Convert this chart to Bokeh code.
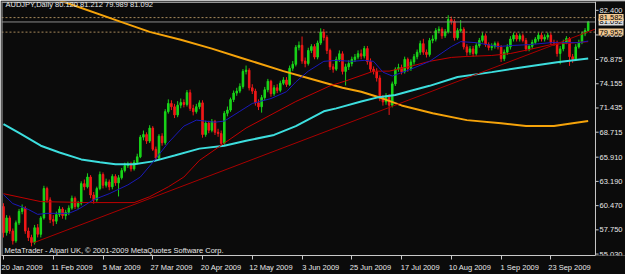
from bokeh.plotting import figure
from bokeh.models import Range1d, FixedTicker, Label, Span, ColumnDataSource
from bokeh.core.properties import value
from bokeh.embed import file_html
from bokeh.resources import INLINE

# ---------------- data (AUDJPY daily) ----------------
OPEN = [
    60.37, 57.44, 59.09, 57.62, 56.52, 58.54, 59.82, 60.19, 57.62, 56.89,
    56.34, 57.99, 57.25, 59.09, 62.39, 61.11, 58.91, 58.72, 59.46, 60.08,
    59.35, 59.71, 60.19, 61.29, 60.37, 60.74, 62.94, 62.58, 63.68, 61.66,
    61.11, 62.39, 63.97, 62.76, 63.13, 62.58, 63.75, 63.02, 63.60, 64.41,
    64.96, 65.07, 64.60, 65.33, 65.95, 68.16, 68.45, 67.72, 69.18, 66.80,
    65.81, 68.27, 67.53, 71.02, 71.94, 71.57, 70.65, 71.75, 72.05, 71.83,
    73.15, 71.39, 71.02, 71.57, 72.01, 68.45, 69.74, 68.93, 69.92, 68.71,
    68.56, 67.46, 70.84, 71.20, 72.38, 73.11, 73.33, 73.85, 75.54, 75.68,
    73.70, 73.33, 72.01, 71.57, 72.60, 73.48, 74.43, 73.04, 73.70, 73.41,
    74.21, 74.58, 74.07, 75.90, 76.34, 78.25, 78.47, 76.71, 76.42, 77.89,
    78.33, 77.15, 78.73, 79.94, 79.35, 77.89, 76.05, 75.79, 76.89, 77.52,
    75.54, 76.05, 76.42, 76.89, 77.15, 77.52, 77.26, 78.11, 76.64, 75.79,
    75.54, 74.80, 72.60, 72.12, 72.75, 71.75, 74.14, 75.79, 75.98, 75.50,
    76.89, 75.87, 76.60, 77.19, 77.70, 78.66, 77.70, 77.44, 79.02, 79.17,
    80.12, 80.27, 79.54, 79.98, 81.37, 81.15, 79.32, 80.12, 80.27, 78.29,
    77.70, 78.07, 77.55, 78.44, 79.02, 79.54, 78.55, 78.22, 78.36, 78.66,
    78.29, 76.97, 77.70, 78.29, 79.17, 79.61, 79.17, 79.54, 79.02, 78.07,
    78.36, 78.80, 79.17, 79.61, 79.17, 79.39, 79.61, 78.80, 78.73, 77.55,
    78.07, 78.80, 79.24, 77.19, 76.89, 78.29, 78.80, 79.76, 80.12,
]
HIGH = [
    60.74, 59.40, 59.35, 57.90, 58.80, 60.10, 60.60, 60.40, 58.00, 57.20,
    58.30, 58.40, 59.30, 62.70, 62.60, 61.40, 59.40, 59.80, 60.40, 60.30,
    60.00, 60.50, 61.60, 61.50, 61.00, 63.20, 63.40, 64.10, 63.90, 62.00,
    62.60, 64.30, 64.20, 63.50, 63.40, 64.00, 64.00, 63.90, 64.70, 65.30,
    65.40, 65.40, 65.60, 66.30, 68.40, 68.90, 68.70, 69.50, 69.40, 67.10,
    68.50, 68.60, 71.30, 72.40, 72.30, 71.90, 72.20, 72.50, 72.40, 73.45,
    73.50, 71.80, 71.90, 72.30, 72.30, 70.00, 70.00, 70.20, 70.10, 69.10,
    68.90, 71.10, 71.60, 72.60, 73.40, 73.70, 74.20, 75.80, 76.20, 75.90,
    74.10, 73.60, 72.40, 72.90, 73.80, 74.70, 74.60, 74.00, 74.10, 74.50,
    74.90, 74.90, 76.20, 76.70, 78.50, 78.90, 79.46, 77.10, 78.20, 78.60,
    78.60, 79.00, 80.38, 80.30, 79.60, 78.10, 76.40, 77.20, 77.90, 77.80,
    76.40, 76.80, 77.20, 77.50, 77.90, 78.00, 78.40, 78.40, 77.00, 76.10,
    75.90, 75.10, 72.90, 73.10, 73.00, 74.40, 76.00, 76.40, 76.30, 77.20,
    77.10, 76.90, 77.50, 78.00, 79.00, 79.20, 78.00, 79.30, 79.60, 80.40,
    80.60, 80.50, 80.30, 81.85, 81.70, 81.40, 80.40, 81.30, 80.50, 78.60,
    78.40, 78.40, 78.70, 79.30, 79.90, 79.80, 78.80, 78.70, 78.90, 78.90,
    78.50, 78.00, 78.60, 79.50, 79.90, 79.90, 79.80, 79.80, 79.30, 78.60,
    79.10, 79.40, 79.90, 79.90, 79.70, 79.90, 79.90, 79.10, 79.00, 78.40,
    79.10, 79.50, 79.40, 77.50, 78.60, 79.10, 80.00, 80.40, 81.212,
]
LOW = [
    56.89, 57.10, 57.30, 56.10, 56.30, 58.30, 59.50, 57.30, 56.50, 55.90,
    56.10, 56.90, 56.90, 58.90, 60.80, 58.50, 58.20, 58.40, 59.20, 59.00,
    58.90, 59.40, 60.00, 60.10, 60.10, 60.50, 62.20, 62.40, 61.30, 60.70,
    60.90, 62.20, 62.40, 62.50, 62.20, 62.30, 62.70, 61.50, 63.40, 64.20,
    64.70, 64.30, 64.40, 65.10, 65.80, 67.80, 67.40, 67.50, 66.60, 65.50,
    65.60, 67.20, 67.30, 70.80, 71.20, 70.30, 70.40, 71.40, 71.50, 71.60,
    71.10, 70.60, 70.80, 71.30, 68.10, 68.20, 68.60, 68.70, 68.40, 68.20,
    67.17, 67.30, 70.50, 71.00, 72.10, 72.80, 73.10, 73.60, 75.20, 73.40,
    73.00, 71.70, 71.20, 70.91, 72.30, 73.20, 72.70, 72.80, 73.10, 73.20,
    74.00, 73.80, 73.90, 75.60, 76.10, 77.90, 76.40, 76.00, 76.20, 77.60,
    76.90, 76.90, 78.50, 79.00, 77.50, 75.70, 75.40, 75.60, 76.60, 75.20,
    73.96, 75.70, 76.10, 76.60, 76.90, 76.90, 77.00, 76.30, 75.50, 75.20,
    74.40, 72.20, 71.70, 71.80, 70.65, 71.50, 73.90, 75.50, 75.20, 75.30,
    75.50, 75.60, 76.30, 76.90, 77.40, 77.40, 77.10, 77.20, 78.70, 78.90,
    79.80, 79.20, 79.30, 79.80, 80.80, 79.00, 79.10, 79.90, 78.00, 77.30,
    77.40, 77.20, 77.30, 78.20, 78.80, 78.30, 77.90, 77.90, 78.10, 78.00,
    76.60, 76.70, 77.40, 78.00, 78.90, 78.90, 78.90, 78.80, 77.80, 77.80,
    78.10, 78.60, 78.90, 78.90, 78.90, 79.10, 78.50, 78.40, 77.20, 76.34,
    77.80, 78.60, 76.16, 76.50, 76.70, 78.10, 78.60, 79.50, 79.989,
]
CLOSE = [
    57.44, 59.09, 57.62, 56.52, 58.54, 59.82, 60.19, 57.62, 56.89, 56.34,
    57.99, 57.25, 59.09, 62.39, 61.11, 58.91, 58.72, 59.46, 60.08, 59.35,
    59.71, 60.19, 61.29, 60.37, 60.74, 62.94, 62.58, 63.68, 61.66, 61.11,
    62.39, 63.97, 62.76, 63.13, 62.58, 63.75, 63.02, 63.60, 64.41, 64.96,
    65.07, 64.60, 65.33, 65.95, 68.16, 68.45, 67.72, 69.18, 66.80, 65.81,
    68.27, 67.53, 71.02, 71.94, 71.57, 70.65, 71.75, 72.05, 71.83, 73.15,
    71.39, 71.02, 71.57, 72.01, 68.45, 69.74, 68.93, 69.92, 68.71, 68.56,
    67.46, 70.84, 71.20, 72.38, 73.11, 73.33, 73.85, 75.54, 75.68, 73.70,
    73.33, 72.01, 71.57, 72.60, 73.48, 74.43, 73.04, 73.70, 73.41, 74.21,
    74.58, 74.07, 75.90, 76.34, 78.25, 78.47, 76.71, 76.42, 77.89, 78.33,
    77.15, 78.73, 79.94, 79.35, 77.89, 76.05, 75.79, 76.89, 77.52, 75.54,
    76.05, 76.42, 76.89, 77.15, 77.52, 77.26, 78.11, 76.64, 75.79, 75.54,
    74.80, 72.60, 72.12, 72.75, 71.75, 74.14, 75.79, 75.98, 75.50, 76.89,
    75.87, 76.60, 77.19, 77.70, 78.66, 77.70, 77.44, 79.02, 79.17, 80.12,
    80.27, 79.54, 79.98, 81.37, 81.15, 79.32, 80.12, 80.27, 78.29, 77.70,
    78.07, 77.55, 78.44, 79.02, 79.54, 78.55, 78.22, 78.36, 78.66, 78.29,
    76.97, 77.70, 78.29, 79.17, 79.61, 79.17, 79.54, 79.02, 78.07, 78.36,
    78.80, 79.17, 79.61, 79.17, 79.39, 79.61, 78.80, 78.73, 77.55, 78.07,
    78.80, 79.24, 77.19, 76.89, 78.29, 78.80, 79.76, 80.12, 81.092,
]

# moving averages, read at selected bars
BLUE_BAR = [0, 3, 8, 11, 14, 21, 24, 29, 34, 40, 44, 48, 53, 58, 62, 68, 71, 76, 80, 86,
            91, 94, 98, 103, 107, 112, 116, 119, 122, 125, 131, 137, 144, 147, 152, 159,
            163, 169, 176, 180, 185, 188]
BLUE_VAL = [61.70, 60.70, 60.04, 59.49, 59.60, 59.60, 60.04, 61.14, 61.81, 62.80, 63.68,
            65.33, 67.53, 69.40, 70.07, 69.84, 69.96, 71.06, 71.94, 72.49, 73.26, 74.36,
            75.57, 76.67, 76.78, 76.67, 76.78, 76.67, 75.46, 75.02, 75.79, 76.67, 78.33,
            78.88, 78.77, 78.33, 78.44, 78.55, 78.77, 78.77, 78.77, 78.95]
RED_BAR = [0, 12, 28, 42, 47, 53, 58, 63, 78, 94, 105, 110, 119, 124, 131, 137, 144, 149,
           157, 163, 169, 176, 188]
RED_VAL = [61.81, 60.92, 60.81, 60.81, 61.47, 62.58, 63.68, 65.55, 69.18, 72.16, 73.92,
           74.47, 75.57, 75.57, 76.12, 76.67, 77.11, 77.22, 77.33, 77.55, 77.99, 78.55, 78.88]
CYAN_BAR = [0, 5, 12, 18, 25, 31, 36, 42, 48, 55, 63, 71, 78, 87, 94, 103, 107, 115, 120,
            126, 131, 137, 146, 157, 167, 178, 188]
CYAN_VAL = [69.62, 68.63, 67.20, 66.43, 65.66, 65.33, 65.11, 65.11, 65.44, 66.10, 66.87,
            67.20, 67.75, 68.41, 69.40, 71.06, 71.39, 72.16, 72.60, 72.90, 73.37, 73.92,
            74.91, 75.46, 76.01, 76.56, 77.00]
ORANGE_BAR = [0, 20, 38, 47, 57, 67, 76, 90, 99, 109, 115, 122, 128, 138, 149, 160, 168,
              177, 183, 188]
ORANGE_VAL = [85.70, 83.28, 81.08, 79.98, 79.10, 78.10, 77.11, 75.57, 74.69, 73.70, 73.26,
              72.49, 71.72, 70.84, 70.07, 69.73, 69.40, 69.40, 69.73, 69.96]
TREND_BAR = [9.65, 190.4]
TREND_VAL = [56.30, 80.31]

LEVELS = [81.582, 79.952]
BID = 81.092

TICK_BARS = [0, 16, 32, 48, 64, 80, 96, 112, 128, 144, 160, 176]
TICK_LABELS = ["20 Jan 2009", "11 Feb 2009", "5 Mar 2009", "27 Mar 2009", "20 Apr 2009",
               "12 May 2009", "3 Jun 2009", "25 Jun 2009", "17 Jul 2009", "10 Aug 2009",
               "1 Sep 2009", "23 Sep 2009"]
Y_TICKS = [55.030, 57.750, 60.470, 63.190, 65.910, 68.715, 71.435, 74.155, 76.875,
           79.635, 82.400]

TITLE = "AUDJPY,Daily  80.120 81.212 79.989 81.092"
COPYRIGHT = "MetaTrader - Alpari UK, \u00a9 2001-2009 MetaQuotes Software Corp."

# ---------------- styling ----------------
BG = "#0b0b0b"
UP = "#19d419"
DOWN = "#f01818"
FONT = "Liberation Sans"
FS = "7.5px"
TXT = "#e8e8e8"
AXC = "#c8c8c8"

X0, X_AXIS, X1 = -0.64, 190.35, 200.0   # chart area ends at the price axis
Y0, Y1 = 54.87, 83.39

p = figure(width=625, height=274, output_backend="svg", toolbar_location=None,
           x_range=Range1d(X0, X1), y_range=Range1d(Y0, Y1),
           y_axis_location=None,
           min_border_left=1, min_border_top=1, min_border_right=0, min_border_bottom=14,
           background_fill_color=BG, border_fill_color=BG,
           outline_line_color=None)
p.xgrid.visible = False
p.ygrid.visible = False

bars = list(range(len(CLOSE)))
cols = [UP if c >= o else DOWN for o, c in zip(OPEN, CLOSE)]
src = ColumnDataSource(dict(
    x=bars, h=HIGH, l=LOW,
    top=[max(o, c) for o, c in zip(OPEN, CLOSE)],
    bot=[min(o, c) for o, c in zip(OPEN, CLOSE)],
    col=cols))
p.segment(x0="x", y0="h", x1="x", y1="l", line_color="col", line_width=1, source=src)
p.vbar(x="x", width=0.5, top="top", bottom="bot", fill_color="col", line_color="col",
       line_width=1, source=src)

# level lines (only across the chart area)
for lv in LEVELS:
    p.segment(x0=X0, y0=lv, x1=X_AXIS, y1=lv, line_color="#a88a5c",
              line_dash="2 2", line_width=1)
p.segment(x0=X0, y0=BID, x1=X_AXIS, y1=BID, line_color="#8a8a8a", line_width=1)

# indicators
p.line(ORANGE_BAR, ORANGE_VAL, line_color="#f5a30a", line_width=2)
p.line(CYAN_BAR, CYAN_VAL, line_color="#3ddede", line_width=2)
p.line(RED_BAR, RED_VAL, line_color="#c00000", line_width=1)
p.line(BLUE_BAR, BLUE_VAL, line_color="#1a1ab8", line_width=1)
p.line(TREND_BAR, TREND_VAL, line_color="#a80000", line_width=1)

# chart border (left / top) and price axis line
p.segment(x0=-0.45, y0=Y0, x1=-0.45, y1=Y1, line_color="#9a9a9a", line_width=1)
p.segment(x0=X0, y0=83.28, x1=X_AXIS, y1=83.28, line_color="#9a9a9a", line_width=1)
p.segment(x0=X_AXIS, y0=Y0, x1=X_AXIS, y1=Y1, line_color=AXC, line_width=1)

# price axis ticks and labels
p.segment(x0=[X_AXIS] * len(Y_TICKS), y0=Y_TICKS, x1=[X_AXIS + 1.0] * len(Y_TICKS),
          y1=Y_TICKS, line_color=AXC, line_width=1)
p.text(x=[X_AXIS + 1.3] * len(Y_TICKS), y=Y_TICKS, text=["%.3f" % v for v in Y_TICKS],
       text_font=value(FONT), text_font_size=value(FS), text_color=TXT,
       text_baseline="middle", text_align="left")

# x axis: tick marks at the dates (minor), labels to their right (major)
xa = p.xaxis[0]
xa.bounds = (X0, X_AXIS)
xa.ticker = FixedTicker(ticks=[b + 6 for b in TICK_BARS], minor_ticks=TICK_BARS)
xa.major_label_overrides = {b + 6: t for b, t in zip(TICK_BARS, TICK_LABELS)}
xa.major_tick_out = 0
xa.major_tick_in = 0
xa.minor_tick_out = 4
xa.minor_tick_in = 0
xa.minor_tick_line_color = AXC
xa.major_label_standoff = 3
xa.axis_line_color = AXC
xa.major_label_text_font = FONT
xa.major_label_text_font_size = FS
xa.major_label_text_color = TXT

# price boxes on the axis
def price_box(val, bg):
    p.add_layout(Label(x=X_AXIS + 1.0, y=val, x_units="data", y_units="data",
                       text="%.3f" % val, text_baseline="middle", text_align="left",
                       text_font=FONT, text_font_size=FS, text_color="#000000",
                       background_fill_color=bg, padding=1))

price_box(BID, "#dcdcdc")
price_box(LEVELS[0], "#f3c992")
price_box(LEVELS[1], "#f3c992")

p.add_layout(Label(x=4, y=251, x_units="screen", y_units="screen", text=TITLE,
                   text_baseline="middle", text_font=FONT, text_font_size=FS,
                   text_color=TXT))
p.add_layout(Label(x=3, y=5.5, x_units="screen", y_units="screen", text=COPYRIGHT,
                   text_baseline="middle", text_font=FONT, text_font_size=FS,
                   text_color=TXT))

open("out.html", "w").write(file_html(p, INLINE))
